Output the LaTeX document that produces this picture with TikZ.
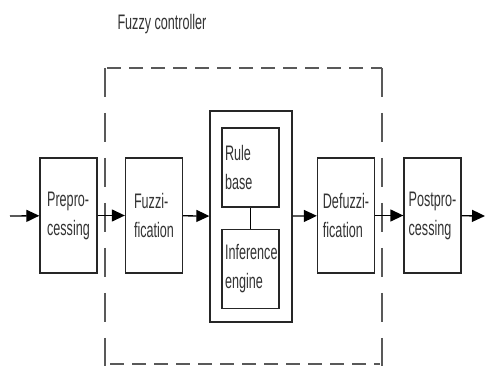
\documentclass[tikz,border=0pt]{standalone}
\usepackage{fontspec}
\setmainfont[FakeStretch=0.6]{Liberation Sans}
\usetikzlibrary{arrows.meta}
\begin{document}
\begin{tikzpicture}[x=1pt,y=-1pt,
  blk/.style={draw=black!85, line width=1.3pt, minimum width=57pt, minimum height=115pt, inner sep=0pt, align=left, font=\fontsize{21}{29}\selectfont, text=black!80},
  sub/.style={blk, minimum height=79pt, text width=51pt},
  outer/.style={draw=black!85, line width=1.3pt, minimum width=82pt, minimum height=211pt, inner sep=0pt},
  flow/.style={line width=1.3pt, -{Triangle[length=13pt,width=12pt]}},
  dashh/.style={draw=black!65, line width=1.3pt, dash pattern=on 14pt off 8pt},
  dashv/.style={draw=black!65, line width=1.3pt, dash pattern=on 29pt off 16pt}]
\useasboundingbox (0,0) rectangle (485,366);
\node[font=\fontsize{21}{22}\selectfont, text=black!80] (title) at (162,24) {Fuzzy controller};
% dashed controller boundary
\draw[dashh] (107,68) -- (382,68);
\draw[dashh] (110,364) -- (380,364);
\draw[dashv] (105,68) -- (105,366);
\draw[dashv] (382,68) -- (382,366);
\node[blk] (pre) at (68.5,215.5) {Prepro-\\cessing};
\node[blk] (fuz) at (154,215.5) {Fuzzi-\\fication};
\node[outer] (mid) at (251,216.5) {};
\node[sub] (rule) at (250.5,167.5) {Rule\\base};
\node[sub] (inf) at (250.5,269) {Inference\\engine};
\node[blk] (def) at (346,215.5) {Defuzzi-\\fication};
\node[blk] (post) at (432.5,215.5) {Postpro-\\cessing};
\coordinate (in) at (10,216);
\coordinate (out) at (485,216);
\draw[line width=1pt] (rule) -- (inf);
\draw[flow] (in) -- (pre);
\draw[flow] (pre) -- (fuz);
\draw[flow] (fuz) -- (mid);
\draw[flow] (mid) -- (def);
\draw[flow] (def) -- (post);
\draw[flow] (post) -- (out);
\end{tikzpicture}
\end{document}
